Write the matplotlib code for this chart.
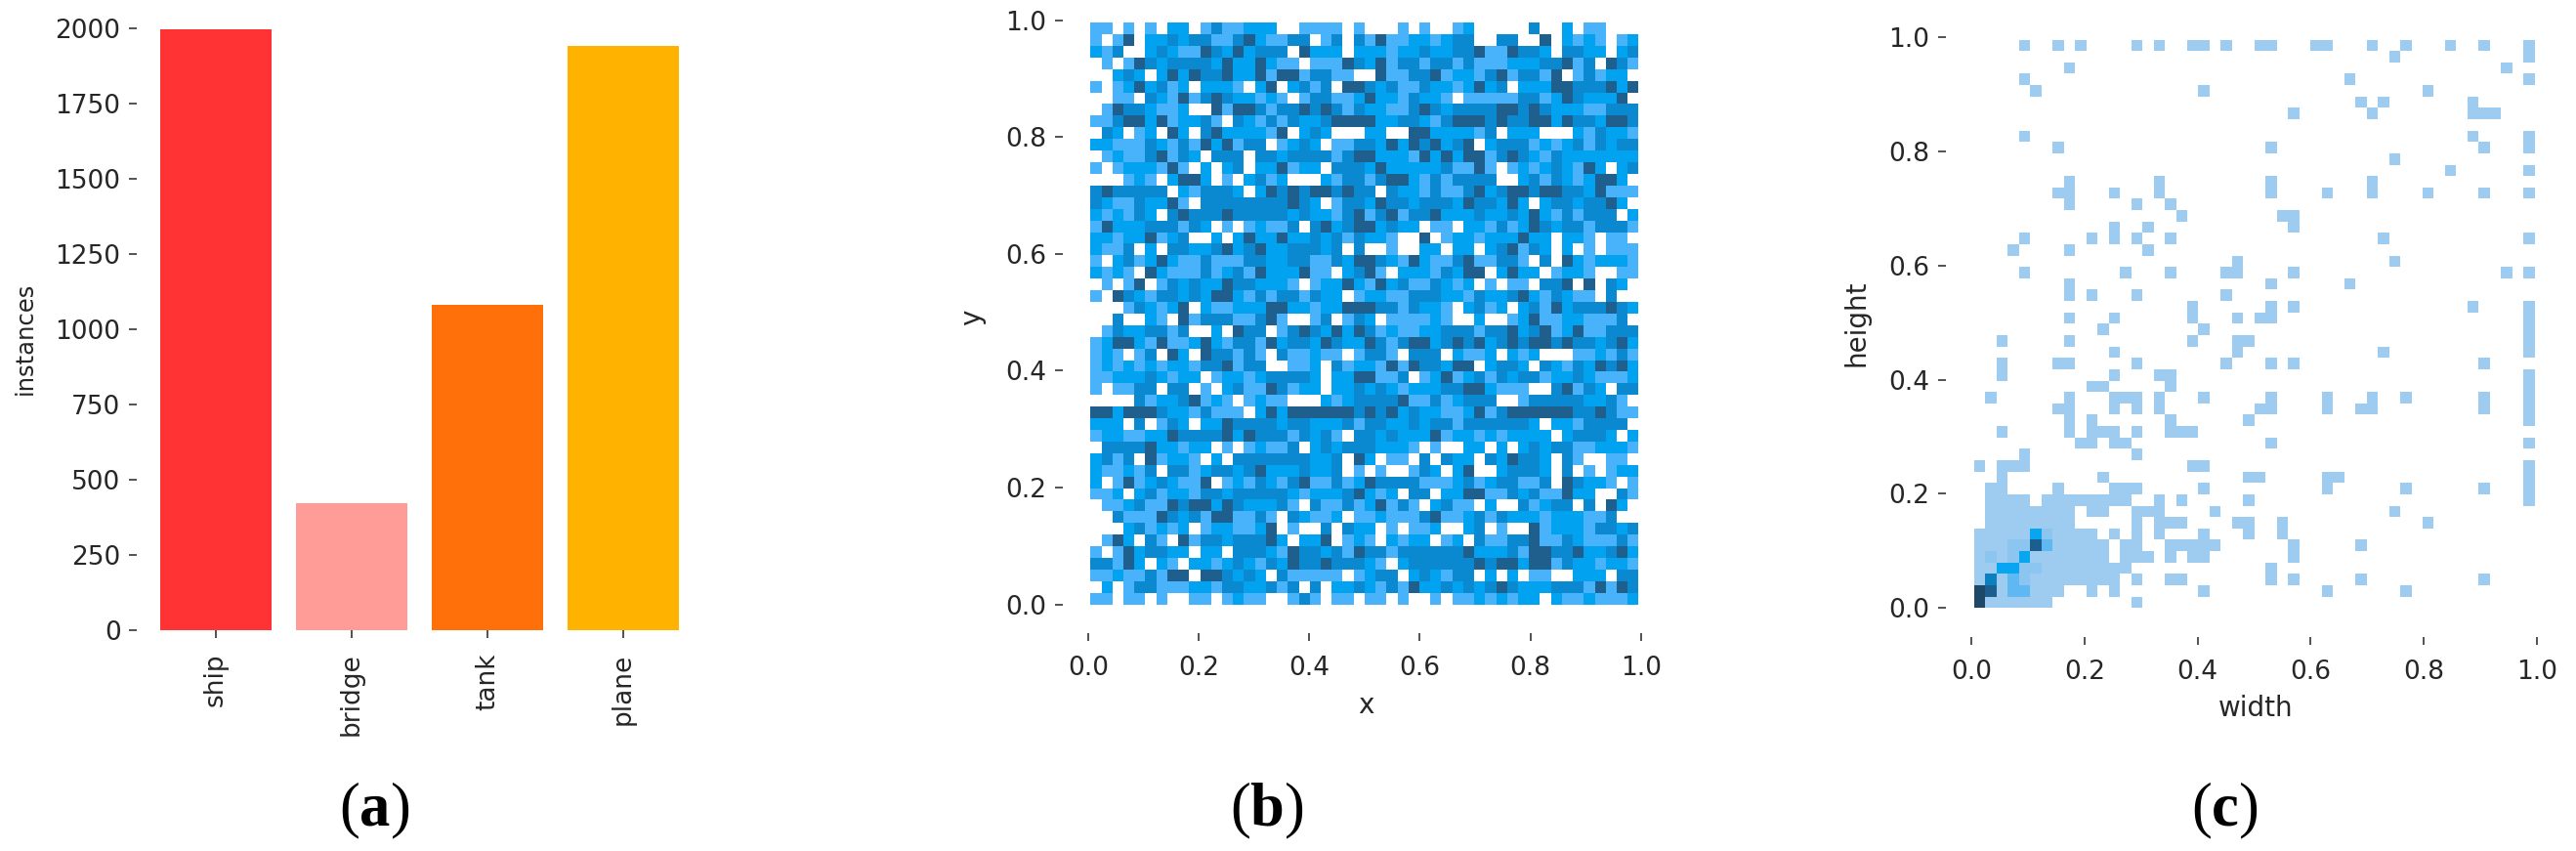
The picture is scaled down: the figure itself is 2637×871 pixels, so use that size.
import numpy as np
import matplotlib
matplotlib.use("Agg")
import matplotlib.pyplot as plt
from matplotlib.colors import ListedColormap, BoundaryNorm

plt.rcParams['font.family'] = ['DejaVu Sans']
plt.rcParams['mathtext.fontset'] = 'custom'
plt.rcParams['mathtext.rm'] = 'Liberation Serif'
plt.rcParams['mathtext.bf'] = 'Liberation Serif:bold'

W, H = 2637, 871

## panel a
classes = ['ship', 'bridge', 'tank', 'plane']
instances = [1997, 421, 1082, 1942]
bar_colors = ['#ff3333', '#ff9c98', '#ff6f0a', '#ffb200']
a_ticks = [0, 250, 500, 750, 1000, 1250, 1500, 1750, 2000]

## panel b, shade of every cell, top row first
b_rows = [
    "1101010220131122200111101" "0001010012000003002011000",
    "1014022323311342113301303" "1411221233003300402121012",
    "2130023211432423330422202" "2212232233411433203322023",
    "0101432333324224211011143" "2413313313111222334130431",
    "0023202424334224144133110" "0411334122134133140131220",
    "1012423120222102402313044" "3231132212423022244333424",
    "0011032141343221210133112" "4221322101111133124322240",
    "0143321120041443133434313" "2211343233334434322211333",
    "1134424122310321313223444" "4223321344434334424332443",
    "0320120420342222140232000" "2200442222130222000213221",
    "2211132131424133012320113" "3242434234023331212313233",
    "0121134132033303323333134" "4222142424413432132222222",
    "1012221410202302241220333" "2422222311410121232142023",
    "0001210244201023120002133" "1344213133330023132124420",
    "3433333021333202434344343" "3032213113423443443324111",
    "3211322410333333334320133" "2433233324332420233233420",
    "2121320343334333332322134" "1341334222322324213133302",
    "1422233313201012113034234" "4232201102213124323313331",
    "2212241230020242242232313" "2210040122122242202210110",
    "2113020332234234223332303" "0010022022023413202010111",
    "1023124211311133223311324" "4321421134113310304212221",
    "2121042111312314222411023" "4102221324402422012210011",
    "0101401323224332221012242" "1423113212010110334040320",
    "1043213323244213133132201" "2211333221322342132110300",
    "0001321240211222442212244" "4331322102312023142333432",
    "0030021041333113410013013" "2011112100200124112211130",
    "0132233130020433013432424" "3121122333133423412411333",
    "1244214112421331423324322" "4313442343423434434332342",
    "1210130420433131031121101" "3310333021120212000112131",
    "1212121221334133001120312" "2141433244023320321324342",
    "1122232122012212333320224" "4113012412313233122321112",
    "1011330330102311431220223" "2321222334421110034132033",
    "0000312234121012110002123" "3334113123330013333322310",
    "4424443221311102424444443" "4342322112413444444334311",
    "2220301320224333323322231" "3322323313333332022133330",
    "1221122433334243331323103" "3232224122121222202333202",
    "0333342212201012113023233" "3222101002202023233112221",
    "2313041221020333333322304" "2011030322032433203100110",
    "2112130331233234222322301" "0100132024002333203010122",
    "2014123211401213213411312" "4333311123123311304322101",
    "1120231221332333332122234" "2120330224411323114220031",
    "0112311434424322231031131" "2413102311020031233030420",
    "0031114323144113103211201" "1211134112313222122211300",
    "0002312120122112401003032" "2010112002301004122213323",
    "0142031041332333420224012" "1021220120311334113211131",
    "1014233220220333214332314" "3313333334222314433422342",
    "3314202102212321324334333" "2102333333434424413221221",
    "1121131440443232031111101" "2330232133020201100222033",
    "0201331112213322313030223" "2131422323234322233314143",
    "1101101001101211001310110" "1101001011212122021121112",
]
b_colors = ['#ffffff', '#48b2fb', '#01a3f0', '#0a88d0', '#1f5f8e']

## panel c, filled columns of each row, bottom row first
c_rows = [
    [0, 1, 2, 3, 4, 5, 6, 14],
    [0, 1, 2, 3, 4, 5, 6, 7, 10, 12, 20, 31, 38],
    [0, 1, 2, 3, 4, 5, 6, 7, 8, 9, 10, 11, 12, 14, 17, 18, 26, 28, 34, 45],
    [0, 1, 2, 3, 4, 5, 6, 7, 8, 9, 10, 11, 12, 13, 26],
    [0, 1, 2, 3, 4, 5, 6, 7, 8, 9, 10, 11, 13, 14, 15, 17, 19, 20, 28],
    [0, 1, 2, 3, 4, 5, 6, 7, 8, 9, 10, 11, 13, 14, 17, 18, 19, 20, 21, 28, 34],
    [0, 1, 2, 3, 4, 5, 6, 7, 8, 9, 10, 12, 14, 16, 20, 24, 27],
    [1, 2, 3, 4, 5, 6, 7, 8, 14, 16, 17, 18, 23, 24, 27, 40],
    [1, 2, 3, 4, 5, 6, 7, 8, 10, 11, 14, 15, 16, 21, 37],
    [1, 2, 3, 4, 6, 7, 8, 9, 10, 11, 12, 13, 16, 18, 24, 49],
    [1, 2, 7, 12, 13, 14, 20, 31, 38, 45, 49],
    [2, 11, 24, 25, 31, 32, 49],
    [0, 2, 3, 4, 19, 20, 49],
    [4, 14],
    [9, 10, 12, 13, 26, 49],
    [2, 8, 10, 11, 12, 14, 17, 18, 19],
    [8, 10, 17, 24, 49],
    [7, 8, 12, 14, 16, 25, 26, 31, 34, 35, 45, 49],
    [1, 8, 12, 13, 14, 16, 20, 26, 31, 35, 38, 45, 49],
    [10, 11, 17, 49],
    [2, 12, 16, 17, 49],
    [2, 7, 8, 14, 22, 26, 28, 45],
    [12, 23, 36, 49],
    [2, 8, 19, 23, 24, 49],
    [11, 20, 49],
    [8, 12, 19, 23, 25, 26, 49],
    [19, 26, 28, 44, 49],
    [8, 10, 14, 22],
    [8, 26, 33],
    [4, 13, 17, 22, 23, 28, 47, 49],
    [23, 37],
    [3, 8, 15],
    [4, 10, 12, 14, 17, 36, 49],
    [12, 15, 28],
    [18, 27, 28],
    [8, 14, 17],
    [7, 8, 12, 16, 26, 31, 35, 40, 45, 49],
    [8, 16, 26, 35],
    [42, 49],
    [37],
    [7, 26, 45, 49],
    [4, 44, 49],
    [],
    [28, 35, 44, 45, 46],
    [34, 36, 44],
    [5, 20, 40],
    [4, 33, 49],
    [8, 47],
    [37, 49],
    [4, 7, 9, 14, 16, 19, 20, 22, 25, 26, 30, 31, 35, 38, 42, 45, 49],
]
## cells darker than the base shade: column, row, shade
c_dark = [
    (0, 0, 7), (0, 1, 7), (1, 1, 6), (1, 2, 5), (3, 2, 3), (4, 2, 2),
    (3, 1, 3), (4, 1, 3), (2, 3, 4), (3, 3, 4), (4, 3, 2), (5, 3, 2),
    (4, 4, 4), (1, 4, 2), (3, 4, 2), (5, 5, 6), (6, 5, 3), (3, 5, 2),
    (4, 5, 2), (5, 6, 4), (6, 6, 2),
]
c_colors = ['#ffffff', '#9ecbf0', '#8cc5f0', '#5fb8f2', '#08a5f0', '#0b7fc0',
            '#1c5f8e', '#1e4868']

unit_ticks = [0.0, 0.2, 0.4, 0.6, 0.8, 1.0]
captions = [('a', 383), ('b', 1297), ('c', 2277)]


def pxAxes(fig, left, top, right, bottom):
    ## axes placed with pixel edges of the full picture
    return fig.add_axes([left / W, 1 - bottom / H, (right - left) / W, (bottom - top) / H])


def styleAxes(ax, font=19):
    for side in ax.spines:
        ax.spines[side].set_visible(False)
    ax.tick_params(length=5.8, width=1.3, color='#444444', labelcolor='#262626',
                   labelsize=font, pad=6)
    ax.tick_params(axis='x', pad=11)


def shadeCells(ax, cells, colors, xlo, xhi, ylo, yhi):
    cmap = ListedColormap(colors)
    norm = BoundaryNorm(np.arange(len(colors) + 1) - 0.5, cmap.N)
    xe = np.linspace(xlo, xhi, 51)
    ye = np.linspace(ylo, yhi, 51)
    ax.pcolormesh(xe, ye, cells, cmap=cmap, norm=norm, linewidth=0, rasterized=True)


fig = plt.figure(figsize=(W / 100, H / 100), dpi=100)

## (a) instances per class
ax = pxAxes(fig, 140, 20, 715, 645)
ax.bar(classes, instances, width=0.82, color=bar_colors)
ax.set_xlim(-0.583, 3.554)
ax.set_ylim(0, 2029)
ax.set_yticks(a_ticks)
styleAxes(ax)
ax.tick_params(axis='x', labelrotation=90, labelsize=19, pad=11)
ax.set_ylabel('instances', fontsize=17.5, color='#262626', labelpad=8)
ax.yaxis.set_label_coords((38 - 140) / 575, (645 - 346) / 625)

## (b) box centres
b_cells = np.array([[int(v) for v in row] for row in b_rows[::-1]])
ax = pxAxes(fig, 1088, 2, 1708, 648)
shadeCells(ax, b_cells, b_colors, 0.004, 0.996, 0.0, 0.9957)
ax.set_xlim(-0.046, 1.05)
ax.set_ylim(-0.049, 1.031)
ax.set_xticks(unit_ticks)
ax.set_yticks(unit_ticks)
styleAxes(ax)
ax.set_xlabel('x', fontsize=20, color='#262626', labelpad=8)
ax.set_ylabel('y', fontsize=20, color='#262626', labelpad=15)

## (c) box sizes
c_cells = np.zeros((50, 50), dtype=int)
for r, cols in enumerate(c_rows):
    for col in cols:
        c_cells[r, col] = 1
for col, r, shade in c_dark:
    c_cells[r, col] = shade
ax = pxAxes(fig, 1992, 9, 2626, 652)
shadeCells(ax, c_cells, c_colors, 0.005, 0.996, 0.0, 0.996)
ax.set_xlim(-0.045, 1.05)
ax.set_ylim(-0.051, 1.05)
ax.set_xticks(unit_ticks)
ax.set_yticks(unit_ticks)
styleAxes(ax)
ax.set_xlabel('width', fontsize=20, color='#262626', labelpad=7)
ax.set_ylabel('height', fontsize=20, color='#262626', labelpad=14)

for name, x in captions:
    fig.text(x / W, 1 - 830 / H, '($\\mathbf{%s}$)' % name, family='Liberation Serif',
             fontsize=45, ha='center', va='center', color='black')

fig.savefig('out.png', dpi=100, facecolor='white')
